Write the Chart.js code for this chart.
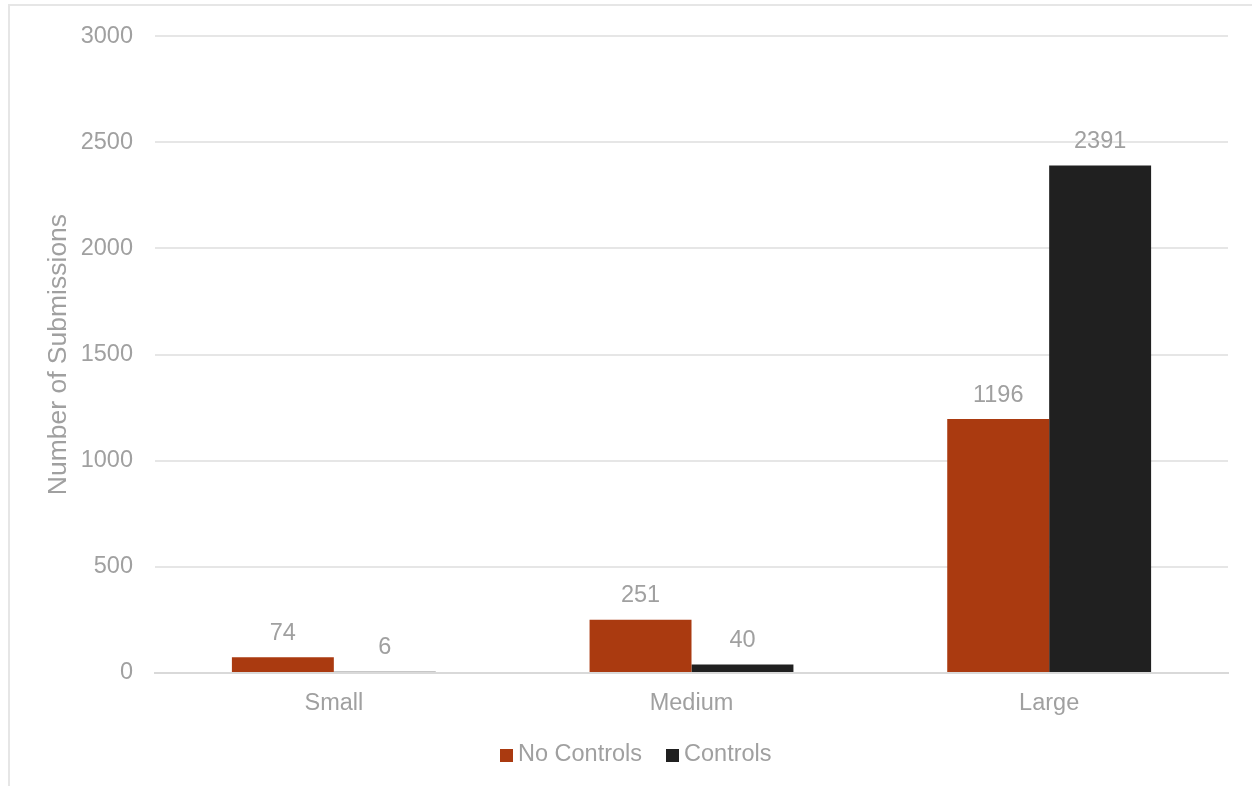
<!DOCTYPE html>
<html>
<head>
<meta charset="utf-8">
<script src="https://cdn.jsdelivr.net/npm/chart.js@4"></script>
<style>
  html, body { margin: 0; padding: 0; background: #fff; }
  #wrap { position: relative; width: 1252px; height: 786px; overflow: hidden; }
  #frame { position: absolute; left: 8px; top: 4px; width: 1300px; height: 900px;
           border-left: 2px solid #e6e6e6; border-top: 2px solid #e6e6e6; }
  canvas { position: absolute; left: 0; top: 0; }
  #legend { position: absolute; left: 500px; top: 738px; font: 23.5px "Liberation Sans", Arial, sans-serif;
            color: #a0a0a0; white-space: nowrap; line-height: 30px; }
  #legend span.item { display: inline-block; margin-right: 24px; }
  #legend i { display: inline-block; width: 13px; height: 13px; margin-right: 5px; vertical-align: -1px; }
</style>
</head>
<body>
<div id="wrap">
  <div id="frame"></div>
  <canvas id="chart" width="1252" height="786"></canvas>
  <div id="legend"></div>
</div>
<script>
// chart data
const categories = ['Small', 'Medium', 'Large'];
const noControls = [74, 251, 1196];
const controls = [6, 40, 2391];
const yTicks = [0, 500, 1000, 1500, 2000, 2500, 3000];

const textGray = '#a0a0a0';
const fontFamily = '"Liberation Sans", Arial, sans-serif';

// draw the value above each bar
const valueLabels = {
  id: 'valueLabels',
  afterDatasetsDraw(chart) {
    const ctx = chart.ctx;
    ctx.save();
    ctx.font = `23.5px ${fontFamily}`;
    ctx.fillStyle = textGray;
    ctx.textAlign = 'center';
    ctx.textBaseline = 'bottom';
    chart.data.datasets.forEach((ds, i) => {
      chart.getDatasetMeta(i).data.forEach((bar, j) => {
        ctx.fillText(ds.data[j], bar.x, bar.y - 12);
      });
    });
    ctx.restore();
  }
};

const chart = new Chart(document.getElementById('chart'), {
  type: 'bar',
  data: {
    labels: categories,
    datasets: [
      { label: 'No Controls', data: noControls, backgroundColor: '#aa3a10' },
      { label: 'Controls', data: controls, backgroundColor: '#202020' }
    ]
  },
  options: {
    responsive: false,
    animation: false,
    layout: { padding: { top: 24, right: 24, left: 0, bottom: 0 } },
    datasets: { bar: { categoryPercentage: 0.57, barPercentage: 1.0 } },
    plugins: {
      tooltip: { enabled: false },
      legend: { display: false }
    },
    scales: {
      x: {
        afterFit: (axis) => { axis.height = 113; },
        grid: { display: false },
        border: { color: '#d9d9d9', width: 2 },
        ticks: { color: textGray, font: { family: fontFamily, size: 23.5 }, padding: 8 }
      },
      y: {
        min: 0, max: 3000,
        afterBuildTicks: (axis) => { axis.ticks = yTicks.map(v => ({ value: v })); },
        afterFit: (axis) => { axis.width = 155; },
        grid: { color: '#e6e6e6', lineWidth: 2, drawTicks: false },
        border: { display: false },
        ticks: { color: textGray, font: { family: fontFamily, size: 23.5 }, padding: 22,
                 callback: (v) => String(v) },
        title: {
          display: true, text: 'Number of Submissions', color: textGray,
          font: { family: fontFamily, size: 26.5 }, padding: { top: 43, bottom: 0 }
        }
      }
    }
  },
  plugins: [valueLabels]
});

// legend as html, same colours as the datasets
document.getElementById('legend').innerHTML = chart.data.datasets.map(ds =>
  `<span class="item"><i style="background:${ds.backgroundColor}"></i>${ds.label}</span>`
).join('');
</script>
</body>
</html>
